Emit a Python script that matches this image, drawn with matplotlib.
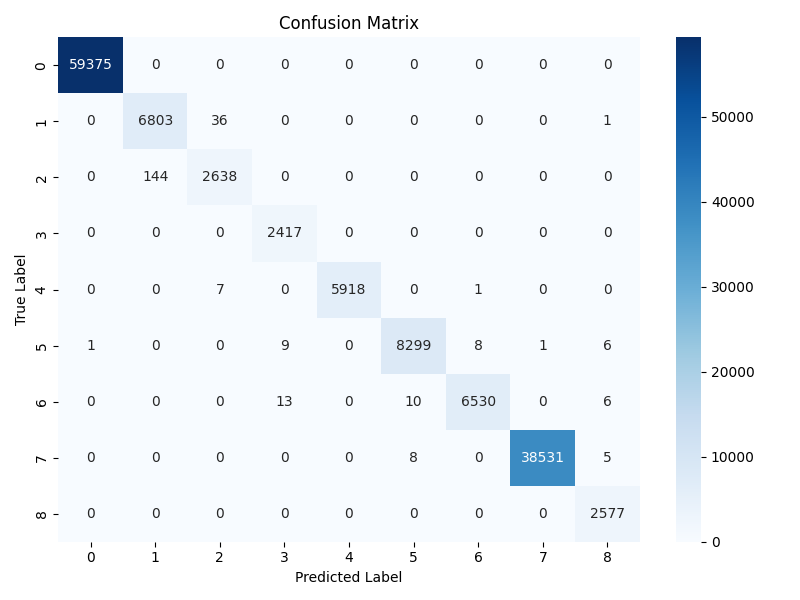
import numpy as np
import matplotlib
matplotlib.use("Agg")
import matplotlib.pyplot as plt
import seaborn as sns

labels = [0, 1, 2, 3, 4, 5, 6, 7, 8]

row0 = [59375, 0, 0, 0, 0, 0, 0, 0, 0]
row1 = [0, 6803, 36, 0, 0, 0, 0, 0, 1]
row2 = [0, 144, 2638, 0, 0, 0, 0, 0, 0]
row3 = [0, 0, 0, 2417, 0, 0, 0, 0, 0]
row4 = [0, 0, 7, 0, 5918, 0, 1, 0, 0]
row5 = [1, 0, 0, 9, 0, 8299, 8, 1, 6]
row6 = [0, 0, 0, 13, 0, 10, 6530, 0, 6]
row7 = [0, 0, 0, 0, 0, 8, 0, 38531, 5]
row8 = [0, 0, 0, 0, 0, 0, 0, 0, 2577]

cm = np.array([row0, row1, row2, row3, row4, row5, row6, row7, row8])

plt.figure(figsize=(8, 6), dpi=100)
sns.heatmap(cm, annot=True, fmt='d', cmap='Blues',
            xticklabels=labels, yticklabels=labels)
plt.title("Confusion Matrix")
plt.xlabel("Predicted Label")
plt.ylabel("True Label")
plt.tight_layout()
plt.savefig("out.png")
